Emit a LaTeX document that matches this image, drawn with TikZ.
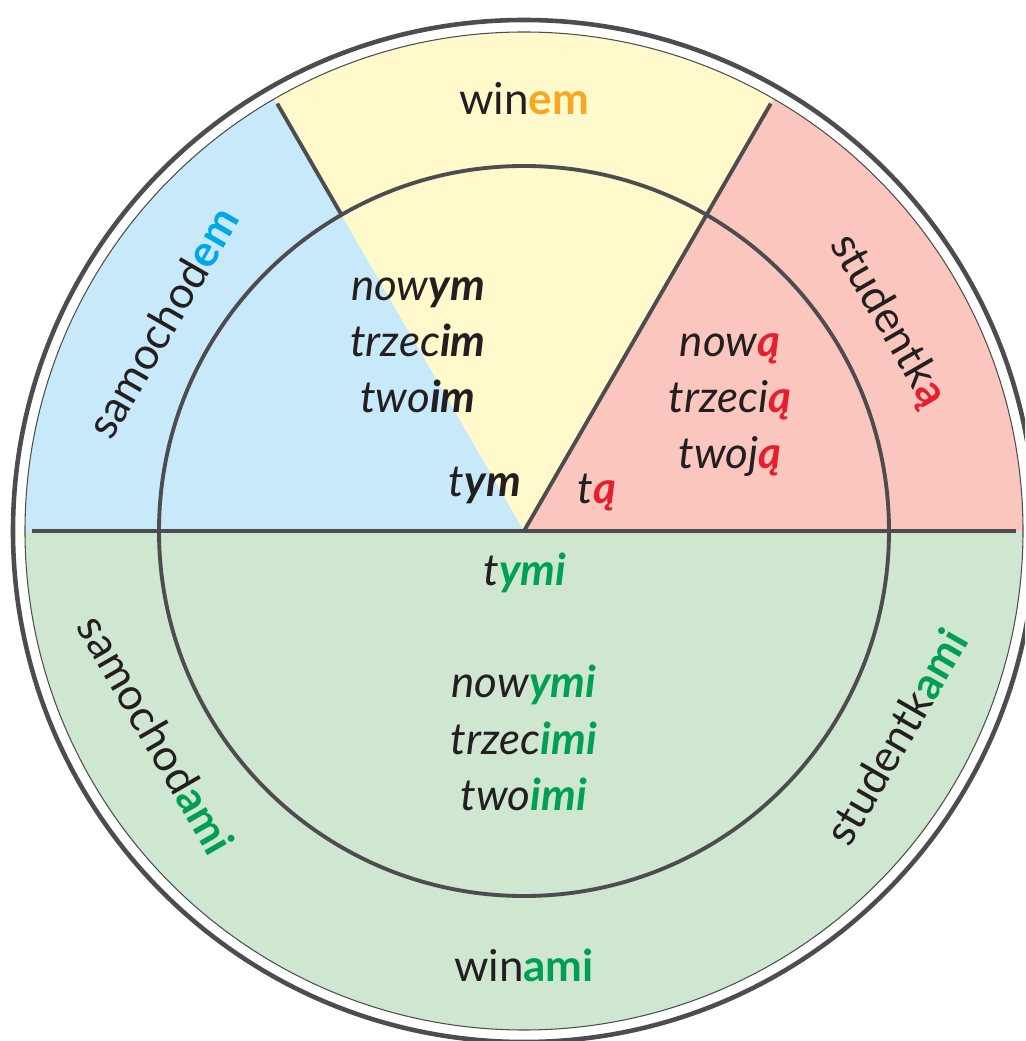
\documentclass[tikz,border=0pt]{standalone}
\usepackage{fontspec}
\setmainfont{Lato}
\usepackage{tikz}
\usepackage{xcolor}
\definecolor{lineGrey}{HTML}{4D4D4F}
\definecolor{inkBlack}{HTML}{231F20}
\definecolor{fillBlue}{HTML}{C7E9F9}
\definecolor{fillYellow}{HTML}{FFF9CC}
\definecolor{fillPink}{HTML}{FBC6BE}
\definecolor{fillGreen}{HTML}{CFE6D1}
\definecolor{inkCyan}{HTML}{00A8E8}
\definecolor{inkOrange}{HTML}{F7A823}
\definecolor{inkRed}{HTML}{E5202E}
\definecolor{inkGreen}{HTML}{00A054}

\begin{document}
\begin{tikzpicture}[word/.style={font=\fontsize{25}{32}\selectfont, text=inkBlack, align=center, inner sep=0pt},
		slant/.style={word, font=\fontsize{25}{32}\selectfont\itshape}]
		\clip (-10.48,-10.2) rectangle (10.02,10.62);
		\fill[fillGreen] (0,0) -- (180:9.98) arc[start angle=180, end angle=360, radius=9.98] -- cycle;
		\fill[fillBlue] (0,0) -- (180:9.98) arc[start angle=180, end angle=120, radius=9.98] -- cycle;
		\fill[fillYellow] (0,0) -- (120:9.98) arc[start angle=120, end angle=60, radius=9.98] -- cycle;
		\fill[fillPink] (0,0) -- (60:9.98) arc[start angle=60, end angle=0, radius=9.98] -- cycle;
		\draw[lineGrey, line width=0.6pt] (0,0) circle (9.98);
		\draw[lineGrey, line width=2.6pt] (0,0) circle (10.22);
		\draw[lineGrey, line width=2.2pt] (0,0) circle (7.3);
		\draw[lineGrey, line width=2.2pt] (-9.83,0) -- (9.83,0);
		\draw[lineGrey, line width=2.2pt] (120:7.3) -- (120:9.87);
		\draw[lineGrey, line width=2.2pt] (0,0) -- (60:9.87);
		\node[word] (winem) at (0,8.64) {win\textbf{\color{inkOrange}em}};
		\node[word, rotate=60] (samochodem) at (150:8.35) {samochod\textbf{\color{inkCyan}em}};
		\node[word, rotate=-60] (studentka) at (30:8.4) {studentk\textbf{\color{inkRed}ą}};
		\node[word, rotate=-60] (samochodami) at (209:8.4) {samochod\textbf{\color{inkGreen}ami}};
		\node[word, rotate=60] (studentkami) at (331:8.5) {studentk\textbf{\color{inkGreen}ami}};
		\node[word] (winami) at (0,-8.68) {win\textbf{\color{inkGreen}ami}};
		\node[slant] (nowym) at (-2.12,3.72) {now\textbf{ym}\\trzec\textbf{im}\\two\textbf{im}};
		\node[slant] (tym) at (-0.78,0.92) {t\textbf{ym}};
		\node[slant] (nowa) at (4.12,2.52) {now\textbf{\color{inkRed}ą}\\trzeci\textbf{\color{inkRed}ą}\\twoj\textbf{\color{inkRed}ą}};
		\node[slant] (ta) at (1.46,0.76) {t\textbf{\color{inkRed}ą}};
		\node[slant] (tymi) at (0.02,-0.84) {t\textbf{\color{inkGreen}ymi}};
		\node[slant] (nowymi) at (0,-4.14) {now\textbf{\color{inkGreen}ymi}\\trzec\textbf{\color{inkGreen}imi}\\two\textbf{\color{inkGreen}imi}};
		\end{tikzpicture}
\end{document}
